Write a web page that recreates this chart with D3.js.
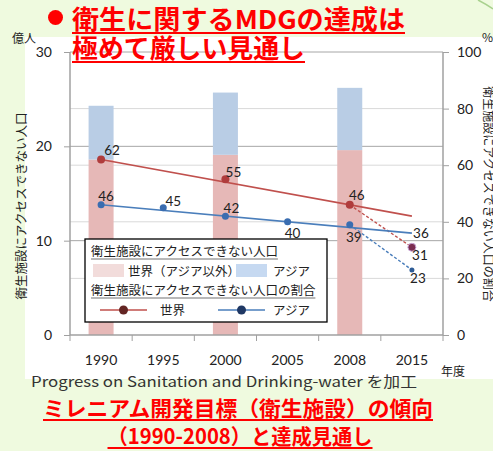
<!DOCTYPE html>
<html>
<head>
<meta charset="utf-8">
<script src="https://cdn.jsdelivr.net/npm/d3@7"></script>
<style>
  body { margin: 0; background: #effadf; }
  svg { display: block; }
  text { font-family: "Noto Sans CJK JP", sans-serif; fill: #222; }
  .num { font-family: Lato, "Noto Sans CJK JP", sans-serif; }
</style>
</head>
<body>
<svg></svg>
<script>
const years = ["1990", "1995", "2000", "2005", "2008", "2015"];
// 億人, stacked bars
const worldExAsia = [18.6, null, 19.1, null, 19.6, null];
const asiaPop = [5.7, null, 6.6, null, 6.6, null];
// % without access
const worldRate = [62, null, 55, null, 46, null];
const asiaRate = [46, 45, 42, 40, 39, null];
const worldOutlook = [{ year: "2008", v: 46 }, { year: "2015", v: 31 }];
const asiaOutlook = [{ year: "2008", v: 39 }, { year: "2015", v: 23 }];
const worldTrend = [{ year: "1990", v: 62 }, { year: "2015", v: 42 }];
const asiaTrend = [{ year: "1990", v: 46 }, { year: "2015", v: 36 }];
const leftTicks = [0, 10, 20, 30];
const rightTicks = [0, 20, 40, 60, 80, 100];

const W = 493, H = 451;
const red = "#c0504d", blue = "#4a7ebb";

const svg = d3.select("svg").attr("width", W).attr("height", H);

// white chart panel
svg.append("rect").attr("x", 25).attr("y", 37).attr("width", W - 25).attr("height", 342).attr("fill", "#fff");
svg.append("path").attr("d", "M478,0 Q486,4 493,9").attr("fill", "none").attr("stroke", "#a9d18e").attr("stroke-width", 1.5);

const x = d3.scaleBand().domain(years).range([70, 443]).padding(0);
const cx = d => x(d) + x.bandwidth() / 2;
const yL = d3.scaleLinear().domain([0, 30]).range([335, 52]);
const yR = d3.scaleLinear().domain([0, 100]).range([335, 52]);

// gridlines
svg.append("g").selectAll("line").data([20, 40, 60, 80]).join("line")
  .attr("x1", 70).attr("x2", 443).attr("y1", d => yR(d)).attr("y2", d => yR(d))
  .attr("stroke", "#d9d9d9");
svg.append("g").selectAll("line").data([10, 20, 30]).join("line")
  .attr("x1", 70).attr("x2", 443).attr("y1", d => yL(d)).attr("y2", d => yL(d))
  .attr("stroke", "#a6a6a6");

// bars
const barW = 25;
const bars = svg.append("g");
years.forEach((yr, i) => {
  if (worldExAsia[i] == null) return;
  bars.append("rect").attr("x", cx(yr) - barW / 2).attr("width", barW)
    .attr("y", yL(worldExAsia[i])).attr("height", yL(0) - yL(worldExAsia[i]))
    .attr("fill", "#e6b8b7");
  bars.append("rect").attr("x", cx(yr) - barW / 2).attr("width", barW)
    .attr("y", yL(worldExAsia[i] + asiaPop[i])).attr("height", yL(worldExAsia[i]) - yL(worldExAsia[i] + asiaPop[i]))
    .attr("fill", "#b9cde5");
});

// axes
const axisCol = "#a0a0a0";
const gL = svg.append("g").attr("transform", "translate(70,0)")
  .call(d3.axisLeft(yL).tickValues(leftTicks).tickSize(6).tickPadding(12));
const gR = svg.append("g").attr("transform", "translate(443,0)")
  .call(d3.axisRight(yR).tickValues(rightTicks).tickSize(6).tickPadding(8));
const gX = svg.append("g").attr("transform", "translate(0,335)")
  .call(d3.axisBottom(x).tickSize(0).tickPadding(20));
[gL, gR, gX].forEach(g => {
  g.select(".domain").attr("stroke", axisCol).attr("stroke-width", 1.5);
  g.selectAll(".tick line").attr("stroke", axisCol);
  g.selectAll("text").attr("class", "num").attr("font-size", 14).attr("fill", "#222");
});
gL.select(".domain").attr("d", "M0,52V335");
gR.select(".domain").attr("d", "M0,52V335");
gX.select(".domain").attr("d", "M70,0H443");
gX.selectAll(".bt").data(d3.range(years.length + 1)).join("line")
  .attr("x1", i => 70 + i * x.step()).attr("x2", i => 70 + i * x.step())
  .attr("y1", 0).attr("y2", 6).attr("stroke", axisCol);

// axis titles
svg.append("text").attr("x", 12).attr("y", 43).attr("font-size", 12).text("億人");
svg.append("text").attr("x", 482).attr("y", 42).attr("font-size", 12).text("%");
svg.append("text").attr("x", 441).attr("y", 376).attr("font-size", 12).text("年度");
svg.append("text").attr("transform", "translate(26,206) rotate(-90)")
  .attr("text-anchor", "middle").attr("font-size", 12.5).text("衛生施設にアクセスできない人口");
svg.append("text").attr("transform", "translate(484,194) rotate(90)")
  .attr("text-anchor", "middle").attr("font-size", 12).text("衛生施設にアクセスできない人口の割合");

// rate lines
const line = d3.line().x(d => cx(d.year)).y(d => yR(d.v));
function drawSeries(trend, outlook, vals, col, dotCol, r) {
  svg.append("path").datum(trend).attr("d", line)
    .attr("fill", "none").attr("stroke", col).attr("stroke-width", 1.6);
  svg.append("path").datum(outlook).attr("d", line)
    .attr("fill", "none").attr("stroke", col).attr("stroke-width", 1.4).attr("stroke-dasharray", "3,2");
  const pts = years.map((yr, i) => ({ year: yr, v: vals[i] })).filter(d => d.v != null);
  svg.append("g").selectAll("circle").data(pts).join("circle")
    .attr("cx", d => cx(d.year)).attr("cy", d => yR(d.v)).attr("r", r).attr("fill", dotCol);
}
drawSeries(worldTrend, worldOutlook, worldRate, red, "#b03c3c", 4);
drawSeries(asiaTrend, asiaOutlook, asiaRate, blue, "#3a6db0", 3.5);
svg.append("circle").attr("cx", cx("2015")).attr("cy", yR(worldOutlook[1].v)).attr("r", 4)
  .attr("fill", "#7a2c50").attr("stroke", "#c9a6d6").attr("stroke-width", 1);
svg.append("circle").attr("cx", cx("2015")).attr("cy", yR(asiaOutlook[1].v)).attr("r", 2.5)
  .attr("fill", "#2e5c96");

// data labels
const labels = [
  { year: "1990", v: 62, dx: 11, dy: -10 },
  { year: "2000", v: 55, dx: 8, dy: -7 },
  { year: "2008", v: 46, dx: 7, dy: -10 },
  { year: "2015", v: 31, dx: 8, dy: 8 },
  { year: "1990", v: 46, dx: 5, dy: -9 },
  { year: "1995", v: 45, dx: 10, dy: -7 },
  { year: "2000", v: 42, dx: 6, dy: -8 },
  { year: "2005", v: 40, dx: 5, dy: 11 },
  { year: "2008", v: 39, dx: 4, dy: 12 },
  { year: "2015", v: 36, dx: 9, dy: 0 },
  { year: "2015", v: 23, dx: 6, dy: 8 }
];
svg.append("g").selectAll("text").data(labels).join("text")
  .attr("class", "num").attr("font-size", 13.5).attr("text-anchor", "middle")
  .attr("dominant-baseline", "central")
  .attr("x", d => cx(d.year) + d.dx).attr("y", d => yR(d.v) + d.dy)
  .text(d => d.v);

// legend
const lg = svg.append("g");
lg.append("rect").attr("x", 85).attr("y", 239).attr("width", 242).attr("height", 83)
  .attr("fill", "#fff").attr("stroke", "#000").attr("stroke-width", 1.3);
const heads = [{ t: "衛生施設にアクセスできない人口", y: 256 }, { t: "衛生施設にアクセスできない人口の割合", y: 295 }];
heads.forEach(h => {
  const t = lg.append("text").attr("x", 91).attr("y", h.y).attr("font-size", 12.5).text(h.t);
  const w = t.node().getComputedTextLength();
  lg.append("line").attr("x1", 91).attr("x2", 91 + w).attr("y1", h.y + 3).attr("y2", h.y + 3)
    .attr("stroke", "#a0a0a0").attr("stroke-width", 1.5);
});
lg.append("rect").attr("x", 93).attr("y", 264).attr("width", 31).attr("height", 13).attr("fill", "#f2dcdb");
lg.append("text").attr("x", 128).attr("y", 276).attr("font-size", 12.5).text("世界（アジア以外）");
lg.append("rect").attr("x", 236).attr("y", 264).attr("width", 31).attr("height", 13).attr("fill", "#c6d9f1");
lg.append("text").attr("x", 273).attr("y", 276).attr("font-size", 12.5).text("アジア");
[{ x: 100, col: red, dot: "#632523", t: "世界", tx: 160 }, { x: 218, col: blue, dot: "#1f3864", t: "アジア", tx: 273 }]
  .forEach(s => {
    lg.append("line").attr("x1", s.x).attr("x2", s.x + 47).attr("y1", 310).attr("y2", 310)
      .attr("stroke", s.col).attr("stroke-width", 1.6);
    lg.append("circle").attr("cx", s.x + 23.5).attr("cy", 310).attr("r", 4.5).attr("fill", s.dot);
    lg.append("text").attr("x", s.tx).attr("y", 315).attr("font-size", 12.5).text(s.t);
  });

// titles
svg.append("circle").attr("cx", 55.5).attr("cy", 17.5).attr("r", 7.5).attr("fill", "#ff0000");
function redTitle(txt, xPos, y, size, len, anchor) {
  const t = svg.append("text").attr("x", xPos).attr("y", y).attr("font-size", size)
    .attr("font-weight", 700).style("fill", "#ff0000").attr("text-anchor", anchor)
    .attr("textLength", len).attr("lengthAdjust", "spacingAndGlyphs").text(txt);
  const x0 = anchor === "middle" ? xPos - len / 2 : xPos;
  svg.append("line").attr("x1", x0).attr("x2", x0 + len).attr("y1", y + 4).attr("y2", y + 4)
    .attr("stroke", "#ff0000").attr("stroke-width", 2);
}
redTitle("衛生に関するMDGの達成は", 72, 29, 26, 333, "start");
redTitle("極めて厳しい見通し", 72, 58, 26, 233, "start");

svg.append("text").attr("x", 31).attr("y", 387).attr("font-size", 14.5).style("fill", "#333")
  .attr("textLength", 386).attr("lengthAdjust", "spacingAndGlyphs")
  .text("Progress on Sanitation and Drinking-water を加工");
redTitle("ミレニアム開発目標（衛生施設）の傾向", 238, 416, 21, 390, "middle");
redTitle("（1990-2008）と達成見通し", 240, 444, 21, 265, "middle");
</script>
</body>
</html>
